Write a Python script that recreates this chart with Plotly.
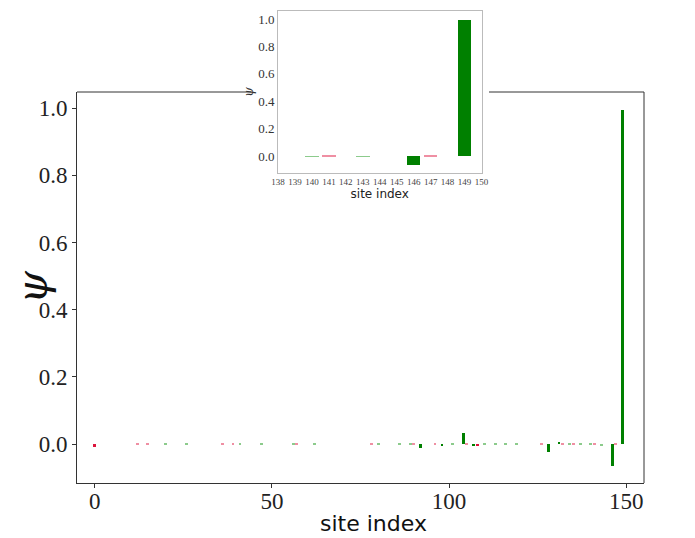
import plotly.graph_objects as go

# site index, amplitude, colour key
SITES = [0, 12, 15, 20, 26, 36, 39, 41, 47, 56, 57, 62, 78, 80, 86, 89, 90, 92, 96, 98,
         101, 104, 105, 107, 108, 110, 113, 116, 119, 126, 128, 131, 132, 134, 135, 137,
         140, 141, 143, 146, 147, 149]
PSI = [-0.010, 0.003, 0.003, 0.002, 0.002, 0.003, 0.003, 0.002, 0.002, 0.002, 0.003, 0.002,
       0.003, 0.002, 0.004, 0.002, 0.003, -0.013, 0.004, -0.005,
       0.002, 0.032, 0.003, -0.003, -0.007, 0.002, 0.002, 0.002, 0.002, 0.003, -0.024, 0.007,
       0.003, 0.002, 0.003, 0.002,
       0.002, 0.003, -0.003, -0.065, 0.003, 0.995]
KIND = ["r", "p", "p", "l", "l", "p", "p", "l", "l", "l", "p", "l", "p", "l", "l", "l", "p", "g", "p", "g",
        "l", "g", "p", "g", "r", "l", "l", "l", "l", "p", "g", "g", "p", "l", "p", "l",
        "l", "p", "l", "g", "p", "g"]

PALETTE = {"g": "#008000", "r": "#dc143c", "l": "#8ccb8c", "p": "#ef8fa3"}
colors = [PALETTE[k] for k in KIND]

INSET_MIN = 138
ins = [i for i, s in enumerate(SITES) if s >= INSET_MIN]

AX = "#333333"
SERIF = "Liberation Serif"

fig = go.Figure()
fig.add_trace(go.Bar(x=SITES, y=PSI, width=0.8, marker=dict(color=colors, line=dict(width=0)),
                     showlegend=False))
fig.add_trace(go.Bar(x=[SITES[i] for i in ins], y=[PSI[i] for i in ins], width=0.8,
                     marker=dict(color=[colors[i] for i in ins], line=dict(width=0)),
                     xaxis="x2", yaxis="y2", showlegend=False))

# page body adds an 8px offset, so the figure is 8px smaller than the window
main_top = 391 / 472
fig.update_layout(
    width=687, height=530,
    margin=dict(l=69, r=51, t=3, b=55, autoexpand=False),
    paper_bgcolor="white", plot_bgcolor="white",
    bargap=0,
    xaxis=dict(domain=[0, 1], range=[-5, 155], tickvals=[0, 50, 100, 150], automargin=False,
               showgrid=False, zeroline=False, showline=True, linecolor=AX, linewidth=1,
               ticks="outside", ticklen=4, tickcolor=AX, ticklabelstandoff=-7,
               tickfont=dict(family=SERIF, size=23, color="#222"),
               anchor="y"),
    yaxis=dict(domain=[0, main_top], range=[-0.116, 1.048], tickvals=[0, 0.2, 0.4, 0.6, 0.8, 1.0],
               tickformat=".1f", automargin=False,
               showgrid=False, zeroline=False, showline=True, linecolor=AX, linewidth=1,
               ticks="outside", ticklen=4, tickcolor=AX,
               tickfont=dict(family=SERIF, size=23, color="#222"),
               title=dict(text="ψ", font=dict(family="DejaVu Serif", size=42, color="#111", style="italic"),
                          standoff=12),
               anchor="x"),
    xaxis2=dict(domain=[(278 - 77) / 567, (481.5 - 77) / 567], range=[138, 150],
                tickvals=list(range(138, 151)), anchor="y2", tickangle=0, automargin=False,
                showgrid=False, zeroline=False, showline=True, mirror=True,
                linecolor="#bbbbbb", linewidth=1, ticks="",
                tickfont=dict(family=SERIF, size=9, color="#444"),
                title=dict(text="site index", font=dict(family="DejaVu Sans", size=12, color="#222"),
                           standoff=1)),
    yaxis2=dict(domain=[(483 - 173) / 472, 1.0], range=[-0.121, 1.058], automargin=False,
                tickvals=[0, 0.2, 0.4, 0.6, 0.8, 1.0], tickformat=".1f", anchor="x2",
                showgrid=False, zeroline=False, showline=True, mirror=True,
                linecolor="#bbbbbb", linewidth=1, ticks="",
                tickfont=dict(family=SERIF, size=13, color="#333"),
                title=dict(text="ψ", font=dict(family="DejaVu Serif", size=12, color="#333", style="italic"),
                           standoff=1)),
)

# main x label sits a little right of the axes centre in the original
fig.add_annotation(text="site index", xref="paper", yref="paper", x=(373 - 77) / 567, y=-(515 - 475) / 472,
                   xanchor="center", yanchor="middle", showarrow=False,
                   font=dict(family="DejaVu Sans", size=22, color="#111"))

# main frame: right edge and the two visible pieces of the top edge
fig.add_shape(type="line", xref="x domain", yref="y domain", x0=1, x1=1, y0=0, y1=1,
              line=dict(color=AX, width=1))
fig.add_shape(type="line", xref="x domain", yref="y domain", x0=0, x1=(251.5 - 77) / 567, y0=1, y1=1,
              line=dict(color=AX, width=1))
fig.add_shape(type="line", xref="x domain", yref="y domain", x0=(489 - 77) / 567, x1=1, y0=1, y1=1,
              line=dict(color=AX, width=1))

fig.write_html("out.html")
